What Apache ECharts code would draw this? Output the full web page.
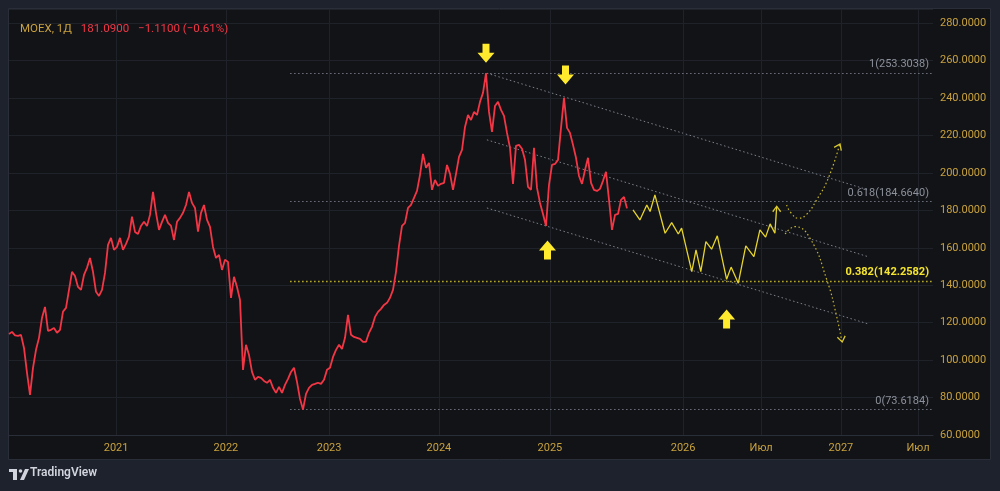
<!DOCTYPE html>
<html>
<head>
<meta charset="utf-8">
<script src="https://cdn.jsdelivr.net/npm/echarts@6/dist/echarts.min.js"></script>
<style>
  html, body { margin: 0; padding: 0; background: #1e222d; }
  #chart { width: 1000px; height: 491px; }
</style>
</head>
<body>
<div id="chart"></div>
<script>
// MOEX daily closes, resampled (one value per bar slot)
const closes = [
  114.0, 115.1, 113.2, 113.0, 113.5, 106.5, 93.2, 81.4, 95.9, 105.5,
  111.9, 122.6, 128.4, 115.6, 116.2, 117.2, 114.6, 116.2, 125.9, 127.9,
  137.5, 147.2, 145.0, 139.1, 137.5, 145.5, 149.3, 154.6, 147.2, 136.5,
  134.3, 137.5, 146.6, 161.6, 165.3, 158.9, 160.5, 165.3, 158.9, 162.1,
  166.0, 176.7, 168.5, 167.4, 171.7, 173.9, 171.7, 177.6, 189.9, 178.7,
  169.6, 173.9, 177.6, 173.3, 171.7, 164.2, 173.9, 176.0, 178.7, 182.9,
  189.9, 184.0, 181.3, 168.7, 178.7, 182.9, 174.9, 171.2, 160.5, 154.6,
  156.2, 148.2, 153.6, 152.5, 133.3, 144.5, 139.1, 132.2, 94.8, 108.2,
  102.8, 93.7, 89.5, 91.1, 90.5, 88.9, 87.9, 89.5, 85.2, 82.5,
  85.7, 82.5, 86.8, 90.0, 93.7, 95.9, 88.4, 79.3, 73.6, 82.0,
  85.2, 86.8, 87.3, 87.9, 87.3, 89.5, 94.8, 95.9, 101.7, 105.5,
  108.2, 106.0, 111.9, 124.2, 113.5, 112.4, 111.9, 111.4, 109.8, 109.8,
  114.6, 117.8, 123.1, 125.8, 127.4, 129.5, 130.6, 133.3, 137.5, 147.2,
  161.0, 171.7, 173.3, 181.3, 182.9, 186.7, 190.4, 199.0, 210.2, 202.7,
  205.4, 191.0, 196.3, 193.1, 194.2, 194.7, 204.3, 199.5, 191.0, 199.5,
  208.6, 212.3, 224.6, 231.0, 228.3, 232.6, 231.0, 238.0, 242.8, 253.3,
  232.6, 221.9, 235.8, 238.0, 233.7, 230.5, 221.4, 213.4, 194.2, 214.5,
  215.0, 212.9, 207.0, 192.6, 191.0, 213.4, 192.0, 184.0, 178.1, 171.7,
  193.6, 204.3, 204.8, 207.0, 224.1, 240.1, 224.1, 221.4, 215.0, 208.1,
  198.4, 194.2, 201.6, 208.1, 194.7, 191.0, 190.4, 191.5, 195.8, 200.6,
  185.6, 169.6, 177.6, 178.1, 185.6, 187.2, 181.09
];

// projected path (bar slot, price)
const projIdx = [208, 210.3, 212.6, 213.7, 215.3, 218.7, 220.9, 223.1, 224.2, 227.6, 229, 230.6, 232.3,
  234.2, 236.1, 239.2, 240.7, 243.1, 245.6, 248.3, 250.3, 252.2, 253.7, 255.3, 255.9];
const projVals = [180.3, 174.9, 182.9, 179.4, 188.3, 167.8, 173.5, 167.4, 170.5, 147.3, 158.9, 147.3, 163.3,
  159.3, 166.4, 143.2, 149.7, 141.1, 161.0, 155.3, 169.6, 165.7, 172.8, 167.8, 182.0];

// scenario curves
const upCurveIdx = [259.2, 260.7, 263.1, 265.7, 269.2, 273.1, 277];
const upCurveVals = [182.9, 178.6, 175.8, 177.6, 185.6, 197.2, 215.9];
const downCurveIdx = [258.7, 262, 267, 272.6, 275.9, 277.6];
const downCurveVals = [167.4, 171.3, 165.1, 142.9, 123.3, 109.9];

// descending channel
const channelIdx = [159.3, 286.3];
const channelUpper = [253.3, 191.0];
const channelMid = [217.7, 155.3];
const channelLower = [181.3, 119.4];

// fibonacci retracement
const fibLevels = ['1', '0.618', '0.382', '0'];
const fibValues = [253.3038, 184.6640, 142.2582, 73.6184];
const fibStartIdx = 93.7;

// marker arrows
const arrowDownIdx = [159, 185.5];
const arrowDownVals = [263.9, 252.4];
const arrowUpIdx = [179.5, 239.2];
const arrowUpVals = [158.9, 122.0];

// time axis labels
const tickIdx = [35.7, 72.3, 106.7, 143.3, 180.3, 224.7, 250.7, 277.3, 303];
const tickLabels = ['2021', '2022', '2023', '2024', '2025', '2026', 'Июл', '2027', 'Июл'];

const lastPrice = 181.09;
const change = -1.11;
const changePct = -0.61;

const xMax = 308;
const gold = '#c9a23d';
const red = '#f23645';
const yellow = '#ffea2e';
const dashed = [1.5, 2.5];

const pair = (xs, ys) => xs.map((x, k) => [x, ys[k]]);
const blockArrow = 'path://M5,0 L12,0 L12,9 L17,9 L8.5,19 L0,9 L5,9 Z';
const chevron = 'path://M0,7 L5,0 L10,7 L8.8,7.9 L5,2.4 L1.2,7.9 Z';

const chart = echarts.init(document.getElementById('chart'));

const channelSeries = [channelUpper, channelMid, channelLower].map(vals => ({
  type: 'line',
  data: pair(channelIdx, vals),
  symbol: 'none',
  silent: true,
  lineStyle: { color: '#7d818c', width: 1, type: dashed },
  z: 3
}));

const option = {
  backgroundColor: '#1e222d',
  animation: false,
  textStyle: { fontFamily: 'Roboto, sans-serif' },
  graphic: [
    { type: 'rect', z: -10, shape: { x: 8.5, y: 8.5, width: 982, height: 451 },
      style: { fill: '#121317', stroke: '#2a2e39', lineWidth: 1 } },
    // TradingView mark
    { type: 'rect', shape: { x: 9, y: 469, width: 8, height: 3 }, style: { fill: '#d1d4dc' } },
    { type: 'rect', shape: { x: 13, y: 469, width: 4, height: 11 }, style: { fill: '#d1d4dc' } },
    { type: 'circle', shape: { cx: 20.5, cy: 471, r: 1.8 }, style: { fill: '#d1d4dc' } },
    { type: 'polygon', shape: { points: [[20, 480], [25, 469], [29, 469], [24, 480]] }, style: { fill: '#d1d4dc' } },
    { type: 'text', left: 30, top: 467,
      style: { text: 'TradingView', fill: '#d1d4dc', font: '600 12px Roboto, sans-serif' } }
  ],
  title: {
    left: 15, top: 15,
    text: '{a|MOEX, 1Д}  {b|' + lastPrice.toFixed(4) + '}  {b|' +
      change.toFixed(4).replace('-', '−') + ' (' + changePct.toFixed(2).replace('-', '−') + '%)}',
    textStyle: {
      fontWeight: 'normal',
      rich: {
        a: { color: gold, fontSize: 11.5, fontWeight: 'normal', fontFamily: 'Roboto, sans-serif' },
        b: { color: red, fontSize: 11.5, fontWeight: 'normal', fontFamily: 'Roboto, sans-serif' }
      }
    }
  },
  grid: { left: 9, right: 67, top: 9, bottom: 56 },
  xAxis: {
    type: 'value',
    min: 0,
    max: xMax,
    axisLine: { show: true, lineStyle: { color: '#2a2e39' } },
    axisTick: { show: false, customValues: tickIdx },
    splitLine: { show: false },
    axisLabel: {
      customValues: tickIdx,
      color: gold,
      fontSize: 11,
      margin: 8,
      formatter: v => {
        const k = tickIdx.findIndex(t => Math.abs(t - v) < 0.01);
        return k >= 0 ? tickLabels[k] : '';
      }
    }
  },
  yAxis: {
    type: 'value',
    position: 'right',
    min: 60,
    max: 287.6,
    interval: 20,
    axisLine: { show: false },
    axisTick: { show: false },
    splitLine: { lineStyle: { color: '#1f2228' } },
    axisLabel: {
      color: gold,
      fontSize: 11,
      margin: 7,
      showMaxLabel: false,
      formatter: v => v.toFixed(4)
    }
  },
  series: [
    {
      // vertical grid lines
      type: 'line', data: [], silent: true, z: 1,
      markLine: {
        silent: true, symbol: 'none', animation: false,
        label: { show: false },
        lineStyle: { color: '#1f2228', type: 'solid', width: 1 },
        data: tickIdx.map(v => ({ xAxis: v }))
      }
    },
    {
      // fibonacci levels
      type: 'line', data: [], silent: true, z: 3,
      markLine: {
        silent: true, symbol: 'none', animation: false,
        data: fibValues.map((v, k) => {
          const isKey = fibLevels[k] === '0.382';
          return [
            {
              coord: [fibStartIdx, v],
              lineStyle: { color: isKey ? '#c4b52a' : '#70747f', width: isKey ? 1.3 : 1, type: dashed },
              label: {
                show: true,
                position: 'insideEndTop',
                distance: [4, 3],
                formatter: fibLevels[k] + '(' + v.toFixed(4) + ')',
                color: isKey ? '#f5e52c' : '#8c909a',
                fontWeight: isKey ? 'bold' : 'normal',
                fontSize: 11
              }
            },
            { coord: [xMax, v] }
          ];
        })
      }
    },
    ...channelSeries,
    {
      type: 'line',
      name: 'MOEX',
      data: closes.map((v, i) => [i, v]),
      symbol: 'none',
      lineStyle: { color: red, width: 1.8 },
      z: 5,
      markLine: {
        silent: true, symbol: 'none', animation: false,
        lineStyle: { opacity: 0 },
        data: [{ yAxis: lastPrice }],
        label: {
          position: 'end',
          distance: 1,
          formatter: lastPrice.toFixed(4),
          color: '#ffffff',
          backgroundColor: red,
          padding: [3, 4, 2, 4],
          fontSize: 11
        }
      }
    },
    {
      type: 'line',
      data: pair(projIdx, projVals),
      symbol: 'none',
      lineStyle: { color: '#e6d42c', width: 1.3 },
      z: 5
    },
    {
      type: 'line',
      data: pair(upCurveIdx, upCurveVals),
      smooth: 0.5,
      symbol: 'none',
      lineStyle: { color: '#c9b92c', width: 1.2, type: dashed },
      z: 5
    },
    {
      type: 'line',
      data: pair(downCurveIdx, downCurveVals),
      smooth: 0.5,
      symbol: 'none',
      lineStyle: { color: '#c9b92c', width: 1.2, type: dashed },
      z: 5
    },
    {
      // arrow heads of projection and scenario curves
      type: 'scatter',
      silent: true,
      z: 6,
      symbol: chevron,
      symbolSize: [9, 7],
      itemStyle: { color: '#d9c82e', opacity: 1 },
      data: [
        { value: [projIdx[projIdx.length - 1], projVals[projVals.length - 1]], symbolRotate: 0, symbolOffset: [0, 2] },
        { value: [upCurveIdx[upCurveIdx.length - 1], upCurveVals[upCurveVals.length - 1]], symbolRotate: -25, symbolOffset: [-1, 3] },
        { value: [downCurveIdx[downCurveIdx.length - 1], downCurveVals[downCurveVals.length - 1]], symbolRotate: 190, symbolOffset: [0, -2] }
      ]
    },
    {
      type: 'scatter',
      silent: true,
      z: 7,
      symbol: blockArrow,
      symbolSize: [17, 19],
      itemStyle: { color: yellow, opacity: 1 },
      data: pair(arrowDownIdx, arrowDownVals)
    },
    {
      type: 'scatter',
      silent: true,
      z: 7,
      symbol: blockArrow,
      symbolSize: [17, 19],
      symbolRotate: 180,
      itemStyle: { color: yellow, opacity: 1 },
      data: pair(arrowUpIdx, arrowUpVals)
    }
  ]
};

chart.setOption(option);
</script>
</body>
</html>
